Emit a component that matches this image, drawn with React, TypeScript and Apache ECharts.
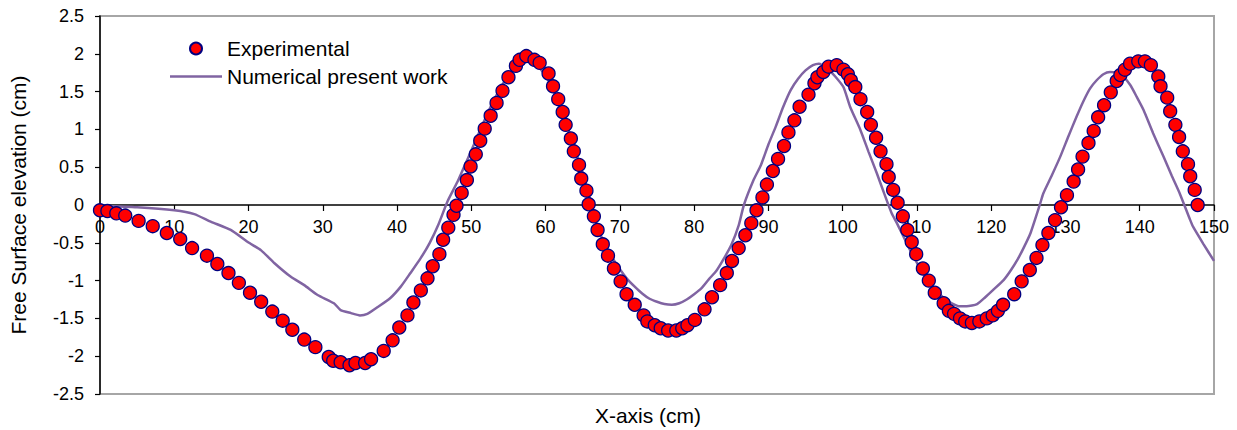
import React, { useEffect, useRef } from "react";
import * as echarts from "echarts";

// Measured free-surface elevation (cm) against position along the flume (cm)
const expX = [
  0, 1.0, 2.2, 3.4, 5.2, 7.1, 9.0, 10.8, 12.4, 14.4, 15.8, 17.3, 18.7, 20.2, 21.7, 23.2, 24.6, 25.9,
  27.5, 29.0, 30.8, 31.4, 32.4, 33.6, 34.4, 35.7, 36.5, 38.2, 39.4, 40.3, 41.4, 42.2, 43.2, 44.1,
  44.8, 45.7, 46.2, 46.9, 47.6, 48.0, 48.7, 49.4, 49.9, 50.6, 51.2, 51.8, 52.6, 53.4, 54.2, 55.0,
  56.0, 56.5, 57.4, 58.5, 59.2, 60.4, 61.0, 61.7, 62.3, 62.7, 63.4, 63.8, 64.5, 64.8, 65.5, 65.8,
  66.5, 67.0, 67.7, 68.4, 69.2, 70.1, 70.9, 72.0, 73.2, 73.7, 74.7, 75.5, 76.5, 77.6, 78.4, 79.1,
  80.1, 81.4, 82.4, 83.5, 84.4, 85.1, 86.0, 86.9, 87.7, 88.4, 89.2, 89.8, 90.6, 91.3, 92.1, 92.7,
  93.5, 94.2, 95.4, 96.2, 96.6, 97.4, 98.1, 99.2, 100.1, 100.7, 101.1, 101.7, 102.4, 103.3, 103.8,
  104.5, 105.1, 105.9, 106.2, 106.8, 107.4, 108.1, 108.7, 109.3, 109.9, 110.8, 111.6, 112.4, 113.6,
  114.3, 115.0, 115.8, 116.5, 117.4, 118.4, 119.4, 120.2, 120.9, 121.6, 123.1, 124.1, 125.2, 126.1,
  126.9, 127.7, 128.6, 129.4, 130.2, 131.1, 131.7, 132.3, 133.1, 133.8, 134.4, 135.2, 136.1, 136.9,
  137.4, 138.0, 138.7, 139.8, 140.7, 141.5, 142.5, 142.8, 143.7, 144.1, 144.8, 145.3, 145.8, 146.5,
  146.8, 147.4, 147.8,
];
const expY = [
  -0.07, -0.08, -0.11, -0.14, -0.21, -0.28, -0.37, -0.45, -0.57, -0.67, -0.78, -0.9, -1.03, -1.16,
  -1.28, -1.41, -1.53, -1.65, -1.78, -1.88, -2.01, -2.06, -2.08, -2.12, -2.09, -2.09, -2.04, -1.93,
  -1.79, -1.62, -1.46, -1.29, -1.13, -0.97, -0.81, -0.65, -0.46, -0.3, -0.13, -0.01, 0.16, 0.33,
  0.51, 0.67, 0.85, 1.01, 1.18, 1.35, 1.51, 1.69, 1.84, 1.92, 1.97, 1.92, 1.88, 1.74, 1.57, 1.4,
  1.23, 1.06, 0.88, 0.71, 0.53, 0.35, 0.19, 0.01, -0.15, -0.33, -0.52, -0.67, -0.84, -1.01, -1.18,
  -1.32, -1.46, -1.54, -1.59, -1.63, -1.66, -1.66, -1.63, -1.59, -1.52, -1.38, -1.22, -1.06, -0.9,
  -0.74, -0.57, -0.4, -0.24, -0.07, 0.1, 0.27, 0.45, 0.61, 0.78, 0.96, 1.12, 1.3, 1.46, 1.61, 1.69,
  1.76, 1.83, 1.85, 1.79, 1.73, 1.65, 1.56, 1.4, 1.23, 1.06, 0.89, 0.71, 0.54, 0.37, 0.2, 0.03,
  -0.15, -0.33, -0.49, -0.65, -0.84, -1.0, -1.16, -1.3, -1.4, -1.44, -1.5, -1.54, -1.56, -1.54,
  -1.5, -1.46, -1.4, -1.32, -1.18, -1.01, -0.86, -0.7, -0.53, -0.37, -0.2, -0.03, 0.13, 0.31, 0.47,
  0.64, 0.82, 0.98, 1.16, 1.32, 1.49, 1.64, 1.72, 1.79, 1.87, 1.9, 1.9, 1.85, 1.7, 1.57, 1.42, 1.24,
  1.06, 0.9, 0.71, 0.54, 0.38, 0.2, 0.0,
];

// Computed free-surface elevation from the numerical model
const numX = [
  0, 5, 10, 12.7, 14.9, 17.6, 19.9, 21.7, 23.5, 25.7, 27.5, 29.3, 31.5, 32.4, 33.8, 35, 36, 37.4,
  39.1, 40.5, 41.8, 43.2, 44.4, 45.6, 46.8, 48.1, 49, 50, 51, 52, 53, 54, 55, 56, 57, 57.5, 58.5, 59.3,
  60.2, 61, 62, 63, 64, 65, 66, 67, 68, 69, 70, 71, 72, 73, 74, 75, 76, 77, 78, 79, 80, 81, 82, 83,
  84, 85, 86, 86.7, 88, 89, 90, 91, 92, 93, 94, 95, 96, 96.8, 98, 99, 100.1, 101, 102.4, 103.5,
  104.6, 105.6, 106.6, 107.3, 109.1, 110.2, 111.4, 112.5, 113.6, 114.7, 115.8, 116.7, 118.1, 119.2,
  120.3, 121.7, 122.6, 123.5, 124.4, 125.3, 126.6, 127, 128.2, 129.3, 130.4, 131.5, 132.4, 133.3,
  134.2, 135.1, 136, 137.4, 138.7, 139.6, 140.5, 141.8, 143.2, 144.3, 145.4, 146.8, 147.2, 148.6,
  150,
];
const numY = [
  -0.01, -0.03, -0.07, -0.12, -0.22, -0.33, -0.49, -0.6, -0.77, -0.95, -1.06, -1.19, -1.3, -1.39,
  -1.43, -1.46, -1.44, -1.35, -1.23, -1.08, -0.9, -0.7, -0.5, -0.25, 0.05, 0.3, 0.5, 0.72, 0.95,
  1.17, 1.38, 1.56, 1.72, 1.84, 1.92, 1.93, 1.88, 1.8, 1.68, 1.52, 1.28, 1.02, 0.72, 0.42, 0.08,
  -0.3, -0.52, -0.7, -0.85, -0.98, -1.08, -1.17, -1.24, -1.28, -1.31, -1.32, -1.3, -1.25, -1.18,
  -1.1, -0.98, -0.87, -0.71, -0.53, -0.27, 0.0, 0.33, 0.53, 0.8, 1.04, 1.3, 1.52, 1.67, 1.78, 1.85,
  1.87, 1.8, 1.7, 1.56, 1.3, 0.99, 0.7, 0.42, 0.15, -0.11, -0.24, -0.6, -0.8, -0.99, -1.12, -1.23,
  -1.3, -1.34, -1.34, -1.31, -1.22, -1.12, -0.99, -0.87, -0.73, -0.56, -0.37, 0.02, 0.15, 0.4, 0.64,
  0.91, 1.17, 1.37, 1.54, 1.65, 1.73, 1.76, 1.74, 1.59, 1.43, 1.26, 0.95, 0.64, 0.39, 0.15, -0.2,
  -0.29, -0.52, -0.74,
];

const xTicks = { min: 0, max: 150, step: 10 };
const yTicks = { min: -2.5, max: 2.5, step: 0.5 };

const FONT = 'Arial, "Liberation Sans", sans-serif';

const GRID = { left: 99, right: 23, top: 16, bottom: 36 };
const CHART_H = 430;

export default function App() {
  const ref = useRef<HTMLDivElement>(null);

  useEffect(() => {
    if (!ref.current) return;
    const chart = echarts.init(ref.current, undefined, { renderer: "svg" });

    const expData = expX.map((x, i) => [x, expY[i]]);
    const numData = numX.map((x, i) => [x, numY[i]]);

    // The x axis crosses the y axis at zero: shift it up from the grid's bottom edge
    const plotH = CHART_H - GRID.top - GRID.bottom;
    const zeroShift = (plotH * (0 - yTicks.min)) / (yTicks.max - yTicks.min);

    chart.setOption({
      animation: false,
      backgroundColor: "#ffffff",
      grid: {
        ...GRID,
        show: true,
        borderColor: "#a6a6a6",
        borderWidth: 2,
        backgroundColor: "transparent",
      },
      legend: {
        orient: "vertical",
        left: 165,
        top: 33,
        itemWidth: 52,
        itemHeight: 12,
        itemGap: 7,
        textStyle: { fontFamily: FONT, fontSize: 21, color: "#000" },
        data: [
          { name: "Experimental", icon: "circle" },
          { name: "Numerical present work", icon: "path://M0,0H52V2.5H0Z" },
        ],
      },
      xAxis: {
        type: "value",
        min: xTicks.min,
        max: xTicks.max,
        interval: xTicks.step,
        position: "bottom",
        offset: -zeroShift,
        axisLine: { onZero: false, lineStyle: { color: "#000", width: 1.5 } },
        axisTick: { show: true, length: 6, lineStyle: { color: "#000", width: 1.2 } },
        axisLabel: { fontFamily: FONT, fontSize: 18, color: "#000", margin: 13 },
        splitLine: { show: false },
      },
      yAxis: {
        type: "value",
        min: yTicks.min,
        max: yTicks.max,
        interval: yTicks.step,
        name: "Free Surface elevation (cm)",
        nameLocation: "middle",
        nameGap: 71,
        nameTextStyle: { fontFamily: FONT, fontSize: 21, color: "#000" },
        axisLine: { show: true, lineStyle: { color: "#000", width: 1.5 } },
        axisTick: { show: true, length: 5, lineStyle: { color: "#000", width: 1.2 } },
        axisLabel: { fontFamily: FONT, fontSize: 18, color: "#000", margin: 16 },
        splitLine: { show: false },
      },
      graphic: [
        {
          type: "text",
          x: 648,
          y: 415,
          style: {
            text: "X-axis (cm)",
            font: `21px ${FONT}`,
            fill: "#000",
            align: "center",
            verticalAlign: "middle",
          },
        },
      ],
      series: [
        {
          name: "Numerical present work",
          type: "line",
          data: numData,
          symbol: "none",
          smooth: 0.2,
          z: 2,
          lineStyle: { color: "#8064A2", width: 2.5 },
          itemStyle: { color: "#8064A2" },
        },
        {
          name: "Experimental",
          type: "scatter",
          data: expData,
          symbol: "circle",
          symbolSize: 13,
          z: 3,
          itemStyle: { color: "#ff0000", borderColor: "#000080", borderWidth: 1.3, opacity: 1 },
        },
      ],
    });

    return () => chart.dispose();
  }, []);

  return (
    <div
      ref={ref}
      style={{ position: "fixed", left: 0, top: 0, width: 1237, height: CHART_H }}
    />
  );
}
